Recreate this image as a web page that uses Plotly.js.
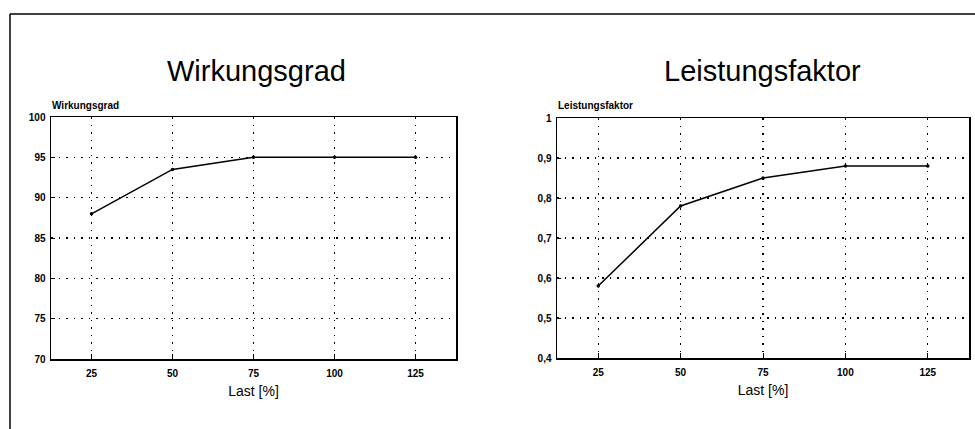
<!DOCTYPE html>
<html>
<head>
<meta charset="utf-8">
<script src="https://cdn.plot.ly/plotly-3.0.1.min.js"></script>
<style>html,body{margin:0;padding:0;background:#fff;}#chart{width:975px;height:429px;}</style>
</head>
<body>
<div id="chart"></div>
<script>
// Data
const last = [25, 50, 75, 100, 125];
const wirkungsgrad = [88, 93.5, 95, 95, 95];
const leistungsfaktor = [0.58, 0.78, 0.85, 0.88, 0.88];
const xTicks = [25, 50, 75, 100, 125];
const wTicks = [70, 75, 80, 85, 90, 95, 100];
const lTicks = [0.4, 0.5, 0.6, 0.7, 0.8, 0.9, 1];
const titles = ["Wirkungsgrad", "Leistungsfaktor"];
const yLabels = ["Wirkungsgrad", "Leistungsfaktor"];
const xLabel = "Last [%]";

const W = 975, H = 429;
const px = v => v / W, py = v => 1 - v / H;
const FONT = "Liberation Sans, Arial, Helvetica, sans-serif";

const lineStyle = {color: "#000", width: 1.5};
const markerStyle = {color: "#000", size: 3.5};

const traces = [
  {x: last, y: wirkungsgrad, type: "scatter", mode: "lines+markers", line: lineStyle, marker: markerStyle, xaxis: "x", yaxis: "y", hoverinfo: "x+y"},
  {x: last, y: leistungsfaktor, type: "scatter", mode: "lines+markers", line: lineStyle, marker: markerStyle, xaxis: "x2", yaxis: "y2", hoverinfo: "x+y"}
];

const tickFont = {family: FONT, size: 10, color: "#000", weight: "bold"};
function xAxis(d0, d1, anchor) {
  return {
    domain: [px(d0), px(d1)], anchor: anchor, range: [12.5, 137.5],
    tickvals: xTicks, ticktext: xTicks.map(String),
    ticks: "inside", ticklen: 5, tickcolor: "#000", tickwidth: 1,
    showline: true, linecolor: "#000", linewidth: 1.5, mirror: true,
    showgrid: true, gridcolor: "#000", gridwidth: 1.3, griddash: "1.5px,6px",
    zeroline: false, tickfont: tickFont, ticklabelstandoff: 4,
    title: {text: xLabel, font: {family: FONT, size: 14, color: "#000"}, standoff: 8}
  };
}
function yAxis(d0, d1, anchor, rng, vals) {
  return {
    domain: [py(d1), py(d0)], anchor: anchor, range: rng,
    tickvals: vals, ticks: "inside", ticklen: 4, tickcolor: "#000", tickwidth: 1,
    showline: true, linecolor: "#000", linewidth: 1.5, mirror: true,
    showgrid: true, gridcolor: "#000", gridwidth: 1.3, griddash: "1.5px,6px",
    zeroline: false, tickfont: tickFont, ticklabelstandoff: 2
  };
}

const layout = {
  width: W, height: H,
  margin: {l: 0, r: 0, t: 0, b: 0},
  paper_bgcolor: "#fff", plot_bgcolor: "#fff",
  showlegend: false,
  separators: ",.",
  font: {family: FONT, color: "#000"},
  xaxis: xAxis(51, 456, "y"),
  yaxis: yAxis(117, 359, "x", [70, 100], wTicks),
  xaxis2: xAxis(557, 969, "y2"),
  yaxis2: yAxis(118, 358, "x2", [0.4, 1], lTicks),
  annotations: [
    {text: titles[0], xref: "paper", yref: "paper", x: px(256), y: py(71), xanchor: "center", yanchor: "middle", showarrow: false, font: {family: FONT, size: 29, color: "#000"}},
    {text: titles[1], xref: "paper", yref: "paper", x: px(762), y: py(71), xanchor: "center", yanchor: "middle", showarrow: false, font: {family: FONT, size: 29, color: "#000"}},
    {text: yLabels[0], xref: "paper", yref: "paper", x: px(50), y: py(106), xanchor: "left", yanchor: "middle", showarrow: false, font: {family: FONT, size: 10, color: "#000", weight: "bold"}},
    {text: yLabels[1], xref: "paper", yref: "paper", x: px(556), y: py(106), xanchor: "left", yanchor: "middle", showarrow: false, font: {family: FONT, size: 10, color: "#000", weight: "bold"}}
  ],
  shapes: [
    {type: "line", xref: "paper", yref: "paper", x0: px(10), x1: px(975), y0: py(14), y1: py(14), line: {color: "#000", width: 1.5}},
    {type: "line", xref: "paper", yref: "paper", x0: px(10), x1: px(10), y0: py(14), y1: py(429), line: {color: "#000", width: 1.5}}
  ]
};

Plotly.newPlot("chart", traces, layout, {displayModeBar: false, staticPlot: true});
</script>
</body>
</html>
